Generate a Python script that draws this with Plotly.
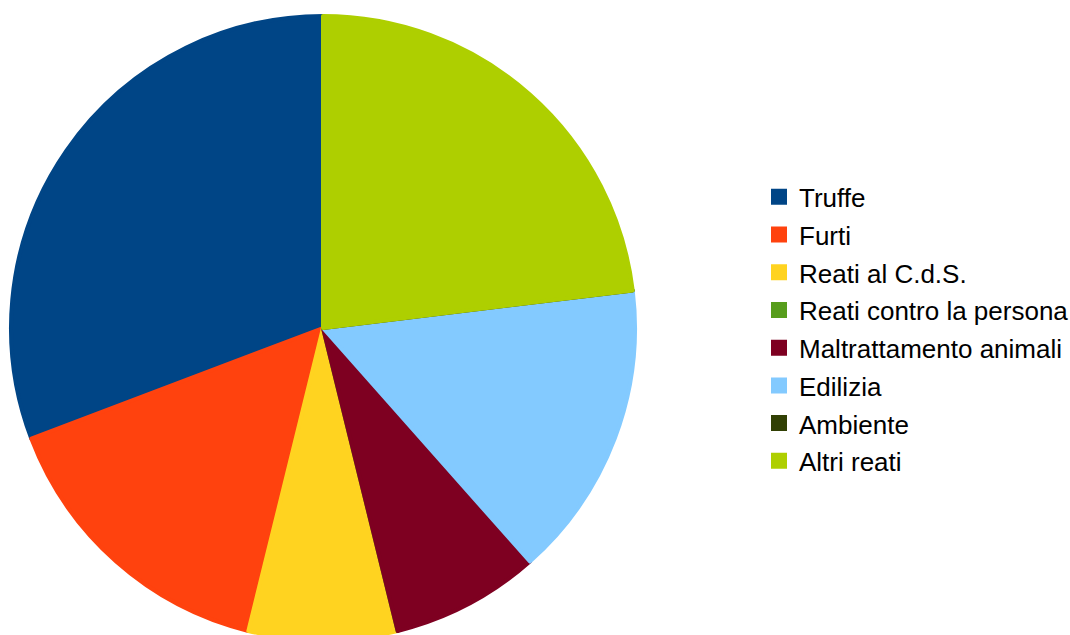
import plotly.graph_objects as go

categories = ["Truffe", "Furti", "Reati al C.d.S.", "Reati contro la persona",
              "Maltrattamento animali", "Edilizia", "Ambiente", "Altri reati"]
values = [4, 2, 1, 0, 1, 2, 0, 3]
colors = ["#004586", "#ff420e", "#ffd320", "#579d1c",
          "#7e0021", "#83caff", "#314004", "#aecf00"]

W, H = 1070, 650
cx, cy, r = 323, 328, 312

labels_shown = ["<span style='font-size:26px'>%s</span>" % c for c in categories]

# Plotly's counterclockwise mode puts the first slice just right of 12 o'clock;
# rotate back by the first slice so it starts at 12 o'clock and runs counterclockwise.
first_slice_deg = 360.0 * values[0] / sum(values)

fig = go.Figure(go.Pie(
    labels=labels_shown,
    values=values,
    sort=False,
    direction="counterclockwise",
    rotation=-first_slice_deg,
    textinfo="none",
    hoverinfo="label+value+percent",
    marker=dict(colors=colors, line=dict(color=colors, width=4)),
    domain=dict(x=[(cx - r) / W, (cx + r) / W], y=[(H - cy - r) / H, (H - cy + r) / H]),
))

fig.update_layout(
    width=W, height=H,
    margin=dict(l=0, r=0, t=0, b=0, autoexpand=False),
    paper_bgcolor="white",
    font=dict(family="Liberation Sans, Arial, sans-serif", color="#000000"),
    legend=dict(
        x=759 / W, xanchor="left",
        y=(H - 329) / H, yanchor="middle",
        font=dict(size=26.7, family="Liberation Sans, Arial, sans-serif", color="#000000"),
        bgcolor="rgba(0,0,0,0)",
        traceorder="normal",
    ),
    showlegend=True,
)

fig.write_html(
    "out.html",
    config={"displayModeBar": False},
    post_script="document.body.style.margin='0';document.body.style.overflow='hidden';",
)
